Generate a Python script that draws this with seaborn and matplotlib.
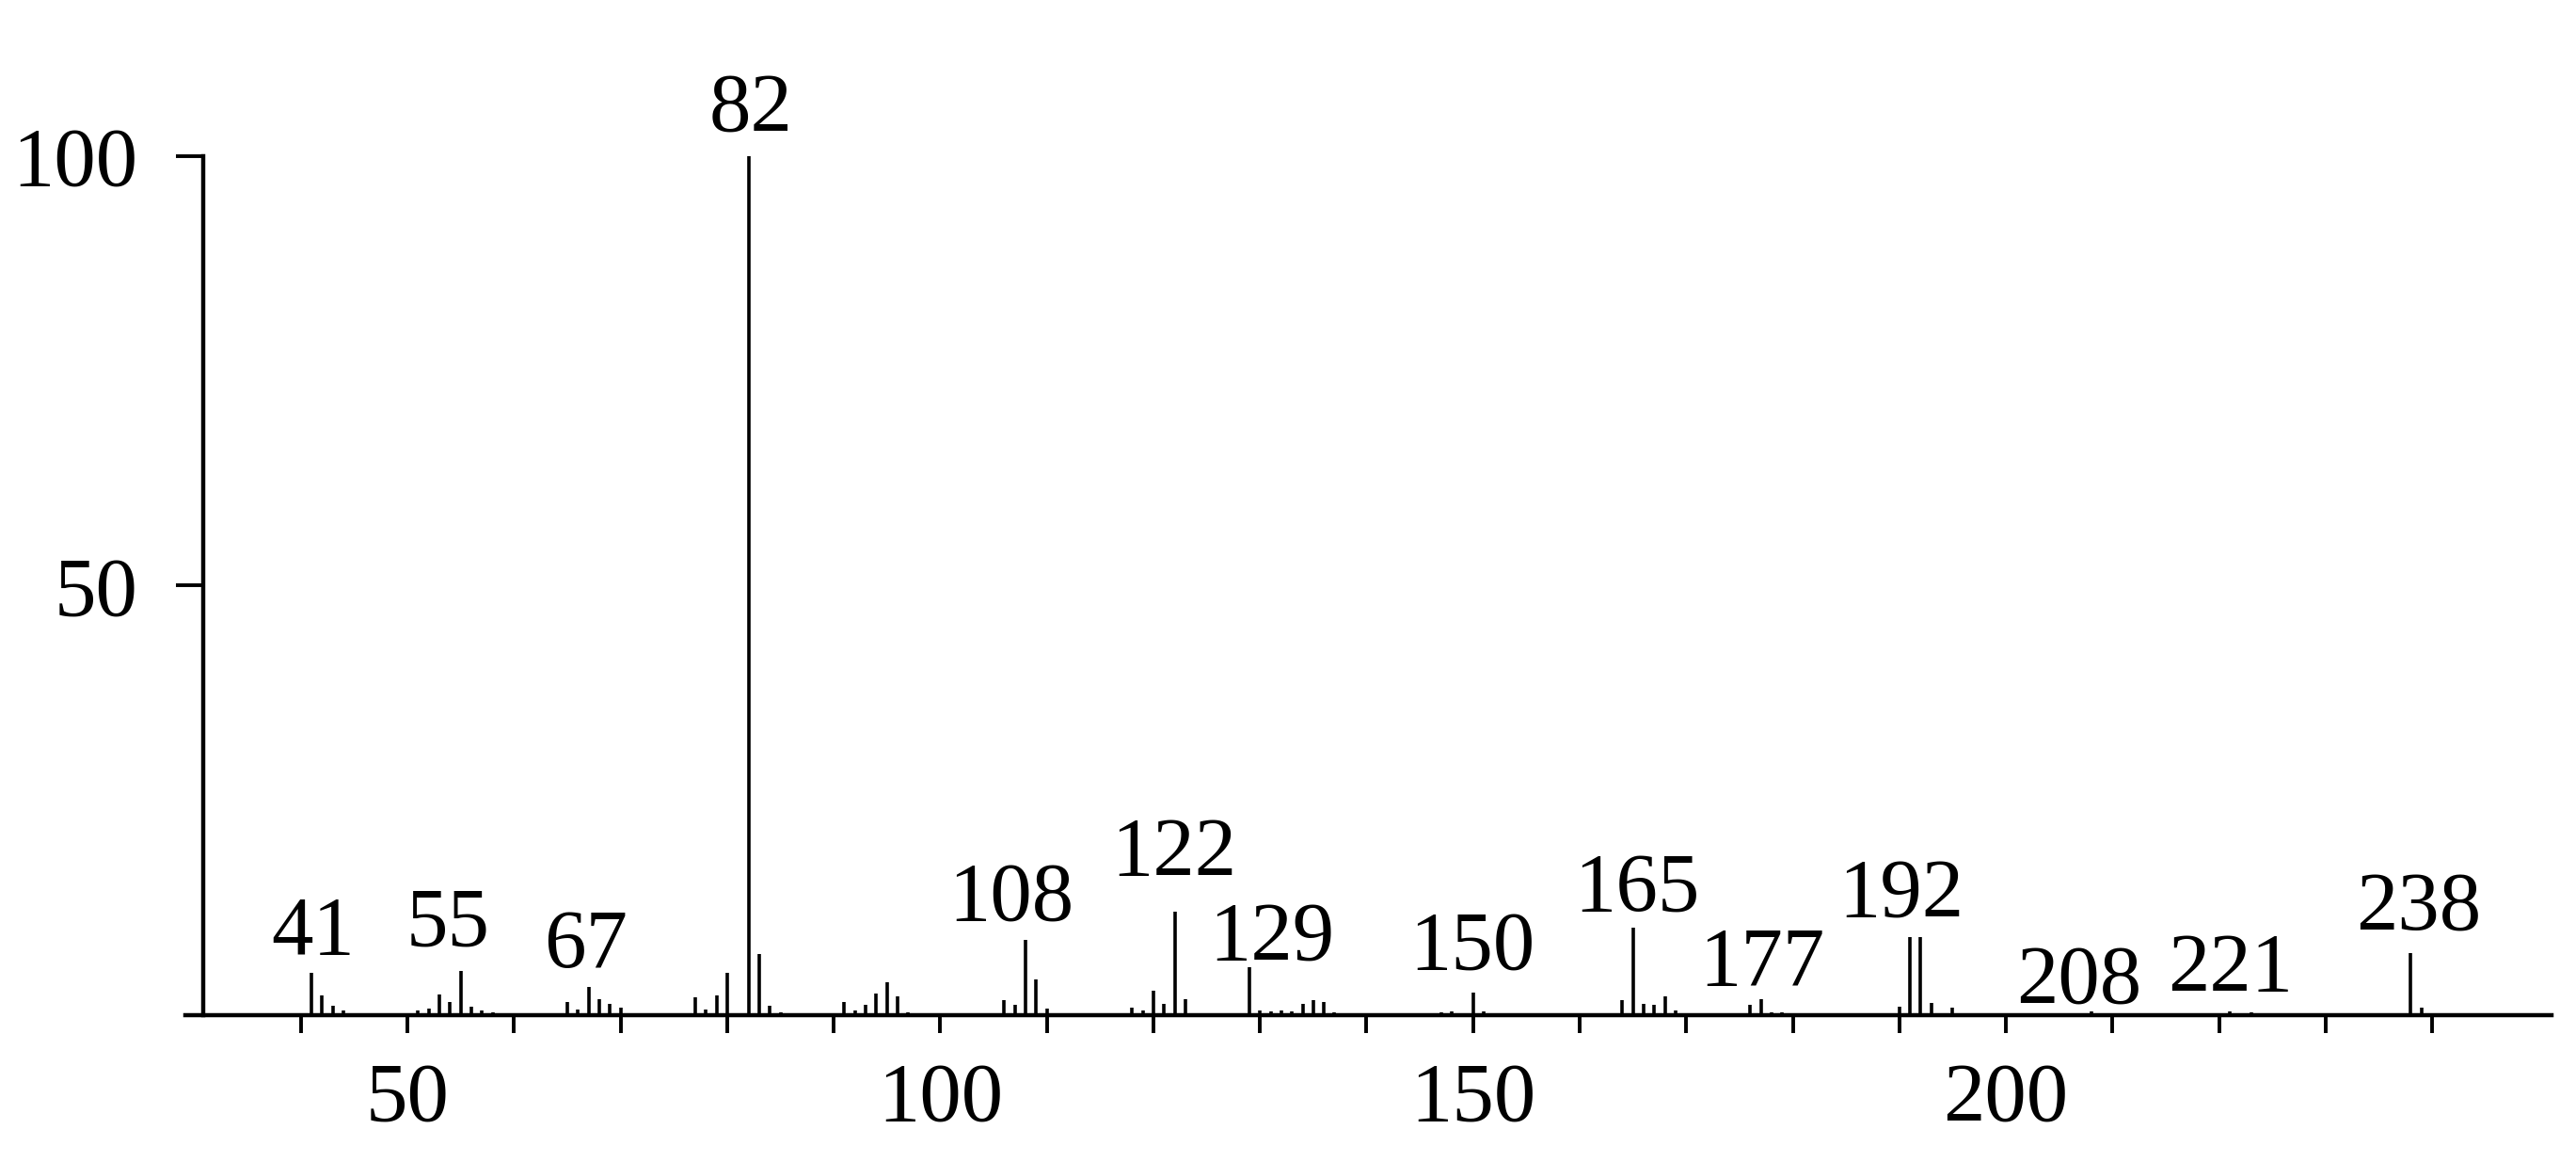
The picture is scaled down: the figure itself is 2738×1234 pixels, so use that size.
"""
Mass spectrum (EI) - relative abundance vs m/z
"""

import matplotlib
matplotlib.use("Agg")
import matplotlib.pyplot as plt
from matplotlib.ticker import FixedLocator
import seaborn as sns

sns.set_theme(style="ticks")
plt.rcParams["font.family"] = ["Liberation Serif", "DejaVu Serif"]

# ---------------------------------------------------------
# Data
# ---------------------------------------------------------
mz = [41, 42, 43, 44,
      51, 52, 53, 54, 55, 56, 57, 58,
      65, 66, 67, 68, 69, 70,
      77, 78, 79, 80, 82, 83, 84, 85,
      91, 92, 93, 94, 95, 96, 97,
      106, 107, 108, 109, 110,
      118, 119, 120, 121, 122, 123,
      129, 130, 131, 132, 133, 134, 135, 136, 137,
      147, 148, 150, 151,
      164, 165, 166, 167, 168, 169,
      176, 177, 178, 179,
      190, 191, 192, 193, 195,
      208, 221, 223, 230, 231,
      238, 239]

intensity = [4.9, 2.3, 1.1, 0.6,
             0.5, 0.8, 2.4, 1.5, 5.2, 1.0, 0.6, 0.3,
             1.5, 0.7, 3.3, 1.9, 1.3, 0.9,
             2.1, 0.7, 2.3, 4.9, 100.0, 7.1, 1.1, 0.3,
             1.5, 0.5, 1.2, 2.5, 3.8, 2.2, 0.3,
             1.8, 1.2, 8.8, 4.2, 0.8,
             0.9, 0.5, 2.9, 1.3, 12.1, 1.9,
             5.6, 0.5, 0.4, 0.5, 0.4, 1.3, 1.8, 1.5, 0.3,
             0.3, 0.4, 2.6, 0.4,
             1.8, 10.2, 1.3, 1.2, 2.2, 0.6,
             1.2, 1.9, 0.3, 0.3,
             1.0, 9.1, 9.1, 1.4, 0.9,
             0.4, 0.4, 0.3, 0.2, 0.2,
             7.2, 0.9]

labelled_peaks = [41, 55, 67, 82, 108, 122, 129, 150, 165, 177, 192, 208, 221, 238]

x_ticks = [50, 100, 150, 200]
x_minor = [40, 60, 70, 80, 90, 110, 120, 130, 140, 160, 170, 180, 190, 210, 220, 230, 240]
y_ticks = [50, 100]

# label placement (x centre, text baseline) in data units
LABEL_POS = {
    41: (41.1, 7.1), 55: (53.8, 8.2), 67: (66.7, 5.6), 82: (82.2, 103.0),
    108: (106.7, 11.1), 122: (121.9, 16.3), 129: (131.1, 6.5), 150: (149.9, 5.4),
    165: (165.4, 12.2), 177: (177.1, 3.5), 192: (190.2, 11.6), 208: (206.9, 1.5),
    221: (221.1, 2.9), 238: (238.7, 10.0),
}

FS = 64
LW_AXIS = 3.2

# ---------------------------------------------------------
# Plot
# ---------------------------------------------------------
fig = plt.figure(figsize=(27.38, 12.34), dpi=100)
ax = fig.add_axes([0.0720, 0.1256, 0.9185, 0.7399])

ax.vlines(mz, 0, intensity, colors="black", linewidth=2.6)

for peak in labelled_peaks:
    lx, ly = LABEL_POS[peak]
    ax.text(lx, ly, str(peak), ha="center", va="baseline",
            fontsize=FS, color="black", clip_on=False)

ax.set_xlim(29.17, 251.2)
ax.set_ylim(0, 100)

sns.despine(ax=ax, top=True, right=True)
ax.spines["left"].set_position(("data", 30.85))
for side in ("left", "bottom"):
    ax.spines[side].set_linewidth(LW_AXIS)
    ax.spines[side].set_color("black")

ax.xaxis.set_major_locator(FixedLocator(x_ticks))
ax.xaxis.set_minor_locator(FixedLocator(x_minor))
ax.yaxis.set_major_locator(FixedLocator(y_ticks))
ax.set_xticklabels([str(t) for t in x_ticks])
ax.set_yticklabels([str(t) for t in y_ticks])

ax.tick_params(axis="x", which="both", direction="out", length=14, width=2.8,
               color="black", pad=22, labelsize=FS, labelcolor="black")
ax.tick_params(axis="y", which="major", direction="out", length=21, width=2.8,
               color="black", pad=29, labelsize=FS, labelcolor="black")

ax.set_xlabel("")
ax.set_ylabel("")
ax.grid(False)
ax.set_facecolor("white")
fig.patch.set_facecolor("white")

fig.savefig("out.png", dpi=100, facecolor="white")
plt.close(fig)
